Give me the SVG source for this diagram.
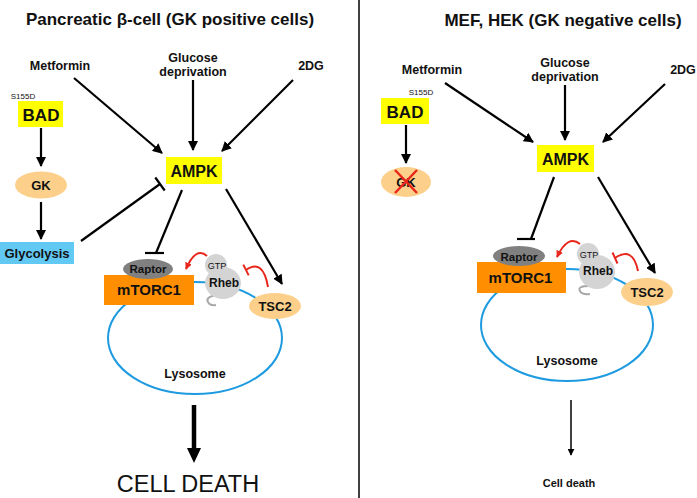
<svg xmlns="http://www.w3.org/2000/svg" width="697" height="498" viewBox="0 0 697 498">
<style>
text{font-family:"Liberation Sans",Arial,sans-serif;text-anchor:middle;fill:#111}
.b{font-weight:bold}
.title{font-size:17px;font-weight:bold}
.lbl{font-size:12.5px;font-weight:bold}
.blk{stroke:#000;stroke-width:2.2;fill:none}
.red{stroke:#E8261C;stroke-width:2;fill:none}
.lyso{stroke:#1E9BE0;stroke-width:2;fill:none}
.yel{fill:#FFFF00}
.lor{fill:#FCD08A}
.org{fill:#FF8F00}
.rap{fill:#808080}
.rheb{fill:#D4D4D4}
.tail{stroke:#A8A8A8;stroke-width:2;fill:none}
</style>
<defs>
<marker id="ah" viewBox="0 0 10 10" refX="9" refY="5" markerWidth="10" markerHeight="10" markerUnits="userSpaceOnUse" orient="auto"><path d="M0,0 L10,5 L0,10 z" fill="#000"/></marker>
<marker id="ahr" viewBox="0 0 10 10" refX="9" refY="5" markerWidth="7" markerHeight="7" markerUnits="userSpaceOnUse" orient="auto"><path d="M0,0 L10,5 L0,10 z" fill="#E8261C"/></marker>
<marker id="ahs" viewBox="0 0 10 10" refX="9" refY="5" markerWidth="7" markerHeight="7" markerUnits="userSpaceOnUse" orient="auto"><path d="M0,0 L10,5 L0,10 z" fill="#000"/></marker>
</defs>

<line x1="359" y1="0" x2="359" y2="498" stroke="#000" stroke-width="1.5"/>

<!-- Left panel -->
<text class="title" x="170" y="25">Pancreatic β-cell (GK positive cells)</text>
<g id="L-metformin"><text class="lbl" x="60" y="70">Metformin</text></g>
<g id="L-glucose"><text class="lbl" x="193" y="62">Glucose</text><text class="lbl" x="193" y="76">deprivation</text></g>
<g id="L-2dg"><text class="lbl" x="311" y="70">2DG</text></g>

<g id="L-lysosome"><ellipse class="lyso" cx="195" cy="338" rx="87" ry="56"/><text class="lbl" x="195" y="378">Lysosome</text></g>

<g id="L-connectors">
<line class="blk" x1="74" y1="78" x2="162" y2="153" marker-end="url(#ah)"/>
<line class="blk" x1="193" y1="80" x2="193" y2="150" marker-end="url(#ah)"/>
<line class="blk" x1="293" y1="80" x2="222" y2="151" marker-end="url(#ah)"/>
<line class="blk" x1="41" y1="128" x2="41" y2="166" marker-end="url(#ah)"/>
<line class="blk" x1="41" y1="202" x2="41" y2="239" marker-end="url(#ah)"/>
<line class="blk" x1="81" y1="241" x2="160" y2="184"/>
<line class="blk" x1="155.3" y1="177.5" x2="164.7" y2="190.5"/>
<line class="blk" x1="182" y1="190" x2="156" y2="253"/>
<line class="blk" x1="145" y1="253" x2="164" y2="253"/>
<line class="blk" x1="226" y1="189" x2="282" y2="284" marker-end="url(#ah)"/>
<path class="red" d="M207,256 Q196,246 186,269" marker-end="url(#ahr)"/>
<path class="red" d="M268,287 Q263,258 246,270"/>
<line class="red" x1="243.3" y1="264.6" x2="248.7" y2="275.4"/>
<line x1="194" y1="405" x2="194" y2="450" stroke="#000" stroke-width="4.5"/>
<polygon points="187,448 201,448 194,463" fill="#000"/>
</g>

<g id="L-bad"><text x="23" y="99" font-size="8">S155D</text><rect class="yel" x="18" y="101" width="45" height="26"/><text class="b" x="41" y="121" font-size="17">BAD</text></g>
<g id="L-gk"><ellipse class="lor" cx="41" cy="185" rx="26" ry="13.5"/><text class="b" x="41" y="189.5" font-size="13">GK</text></g>
<g id="L-glycolysis"><rect fill="#62C8F4" x="0" y="242" width="74" height="22"/><text class="b" x="37" y="257.5" font-size="13">Glycolysis</text></g>
<g id="L-ampk"><rect class="yel" x="166" y="157" width="56" height="27"/><text class="b" x="194" y="177" font-size="16">AMPK</text></g>
<g id="L-mtorc1"><rect class="org" x="104" y="275" width="90" height="30"/><text class="b" x="149" y="295" font-size="15">mTORC1</text></g>
<g id="L-raptor"><ellipse class="rap" cx="148" cy="269" rx="25" ry="10"/><text class="b" x="148" y="273" font-size="11.5" fill="#222">Raptor</text></g>
<g id="L-rheb">
<path class="tail" d="M217,295 Q205,297 208,302 Q210,306 216,305"/>
<ellipse class="rheb" cx="223" cy="283" rx="18" ry="16"/>
<circle class="rheb" cx="216" cy="265" r="11"/>
<text x="217" y="268.5" font-size="9">GTP</text>
<text class="b" x="224" y="287" font-size="12">Rheb</text>
</g>
<g id="L-tsc2"><ellipse class="lor" cx="275" cy="306" rx="26" ry="13"/><text class="b" x="275" y="310.5" font-size="13">TSC2</text></g>
<g id="L-celldeath"><text x="188" y="492" font-size="23.5">CELL DEATH</text></g>

<!-- Right panel -->
<text class="title" x="563" y="26">MEF, HEK (GK negative cells)</text>
<g id="R-metformin"><text class="lbl" x="432" y="74">Metformin</text></g>
<g id="R-glucose"><text class="lbl" x="565" y="67">Glucose</text><text class="lbl" x="565" y="81">deprivation</text></g>
<g id="R-2dg"><text class="lbl" x="683" y="74">2DG</text></g>

<g id="R-lysosome"><ellipse class="lyso" cx="567" cy="325" rx="86" ry="56"/><text class="lbl" x="567" y="365">Lysosome</text></g>

<g id="R-connectors">
<line class="blk" x1="445" y1="83" x2="533" y2="142" marker-end="url(#ah)"/>
<line class="blk" x1="565" y1="85" x2="565" y2="140" marker-end="url(#ah)"/>
<line class="blk" x1="665" y1="84" x2="603" y2="142" marker-end="url(#ah)"/>
<line class="blk" x1="406" y1="125" x2="406" y2="163" marker-end="url(#ah)"/>
<line class="blk" x1="554" y1="177" x2="531" y2="239"/>
<line class="blk" x1="517" y1="239" x2="535" y2="239"/>
<line class="blk" x1="598" y1="177" x2="655" y2="273" marker-end="url(#ah)"/>
<path class="red" d="M580,244 Q568,234 557,257" marker-end="url(#ahr)"/>
<path class="red" d="M638,271 Q633,246 615,258"/>
<line class="red" x1="612.5" y1="252.5" x2="617.5" y2="263.5"/>
<line x1="571" y1="400" x2="571" y2="455" stroke="#000" stroke-width="1.5" marker-end="url(#ahs)"/>
</g>

<g id="R-bad"><text x="421" y="95" font-size="8">S155D</text><rect class="yel" x="381" y="98" width="48" height="26"/><text class="b" x="405" y="117.5" font-size="17">BAD</text></g>
<g id="R-gk"><ellipse class="lor" cx="406" cy="182" rx="25" ry="15"/><text class="b" x="406" y="186.5" font-size="13" fill="#333">GK</text>
<line x1="395" y1="170" x2="417" y2="193" stroke="#E8261C" stroke-width="2.5"/><line x1="417" y1="170" x2="395" y2="193" stroke="#E8261C" stroke-width="2.5"/></g>
<g id="R-ampk"><rect class="yel" x="537" y="145" width="57" height="27"/><text class="b" x="565.5" y="164.5" font-size="16">AMPK</text></g>
<g id="R-mtorc1"><rect class="org" x="477" y="262" width="89" height="31"/><text class="b" x="520.5" y="283" font-size="15">mTORC1</text></g>
<g id="R-raptor"><ellipse class="rap" cx="519" cy="256" rx="26" ry="10"/><text class="b" x="519" y="260.5" font-size="11.5" fill="#222">Raptor</text></g>
<g id="R-rheb">
<path class="tail" d="M589,286 Q577,286 580,291 Q582,295 590,294"/>
<ellipse class="rheb" cx="597" cy="272" rx="18" ry="17"/>
<circle class="rheb" cx="588" cy="254" r="11"/>
<text x="589" y="257.5" font-size="9">GTP</text>
<text class="b" x="598" y="275" font-size="12">Rheb</text>
</g>
<g id="R-tsc2"><ellipse class="lor" cx="647" cy="292" rx="26" ry="14"/><text class="b" x="647" y="296.5" font-size="13">TSC2</text></g>
<g id="R-celldeath"><text class="b" x="569" y="487" font-size="11">Cell death</text></g>
</svg>
